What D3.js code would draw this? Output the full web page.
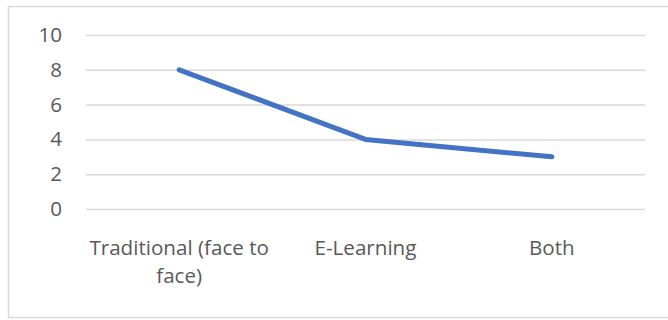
<!DOCTYPE html>
<html>
<head>
<meta charset="utf-8">
<script src="https://cdn.jsdelivr.net/npm/d3@7/dist/d3.min.js"></script>
<style>
  html, body { margin: 0; padding: 0; background: #fff; }
  svg { display: block; }
  text { font-family: "Open Sans", sans-serif; fill: #595959; }
</style>
</head>
<body>
<svg id="chart" width="668" height="320"></svg>
<script>
// Learning mode preference
const categories = ["Traditional (face to face)", "E-Learning", "Both"];
const values = [8, 4, 3];
const yTicks = [0, 2, 4, 6, 8, 10];

const svg = d3.select("#chart");
const W = 668, H = 320;
const plot = { left: 86, right: 645, top: 35, bottom: 209 };
const fontSize = 20.6;

// chart frame
svg.append("rect")
  .attr("x", 8.5).attr("y", 6.5)
  .attr("width", W + 10).attr("height", 311)
  .attr("fill", "#fff")
  .attr("stroke", "#d9d9d9")
  .attr("stroke-width", 1.5);

const x = d3.scaleBand().domain(categories).range([plot.left, plot.right]);
const y = d3.scaleLinear().domain([0, 10]).range([plot.bottom, plot.top]);

// value axis with gridlines
const yAxis = svg.append("g")
  .attr("transform", `translate(${plot.left},0)`)
  .call(d3.axisLeft(y).tickValues(yTicks)
    .tickSizeInner(-(plot.right - plot.left)).tickSizeOuter(0).tickPadding(24));
yAxis.select(".domain").remove();
yAxis.selectAll(".tick line").attr("stroke", "#d9d9d9").attr("stroke-width", 1.5);
yAxis.selectAll(".tick text")
  .attr("font-size", fontSize).attr("font-family", "Open Sans, sans-serif")
  .attr("fill", "#595959");

// category labels, wrapped to the band width
function wrapLines(label, maxW, size) {
  const probe = svg.append("text").attr("font-size", size);
  const words = label.split(" ");
  const lines = [];
  let cur = "";
  for (const w of words) {
    const test = cur ? cur + " " + w : w;
    probe.text(test);
    if (probe.node().getComputedTextLength() > maxW && cur) {
      lines.push(cur);
      cur = w;
    } else {
      cur = test;
    }
  }
  lines.push(cur);
  probe.remove();
  return lines;
}

const xLabels = svg.append("g");
categories.forEach(c => {
  const lines = wrapLines(c, x.bandwidth() - 2, fontSize);
  const cx = x(c) + x.bandwidth() / 2;
  const t = xLabels.append("text")
    .attr("text-anchor", "middle")
    .attr("font-size", fontSize)
    .attr("x", cx)
    .attr("y", 255);
  lines.forEach((ln, i) => {
    t.append("tspan")
      .attr("x", cx)
      .attr("dy", i === 0 ? 0 : 28)
      .text(ln);
  });
});

// series line
const line = d3.line()
  .x((d, i) => x(categories[i]) + x.bandwidth() / 2)
  .y(d => y(d));

svg.append("path")
  .datum(values)
  .attr("d", line)
  .attr("fill", "none")
  .attr("stroke", "#4472C4")
  .attr("stroke-width", 5)
  .attr("stroke-linecap", "round")
  .attr("stroke-linejoin", "round");
</script>
</body>
</html>
